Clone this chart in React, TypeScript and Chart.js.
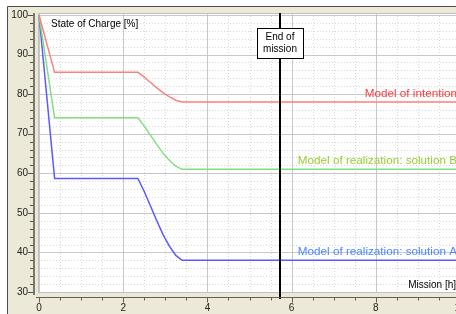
import React, { useEffect, useRef } from "react";
import { Chart, registerables } from "chart.js";

Chart.register(...registerables);

const missionHours = [0, 0.37, 2.35, 2.5, 2.65, 2.8, 2.95, 3.1, 3.25, 3.4, 10];
const intention = [100, 85.5, 85.5, 84.3, 82.95, 81.6, 80.33, 79.28, 78.45, 78.0, 78.0];
const solutionB = [100, 74, 74, 71.92, 69.58, 67.24, 65.03, 63.21, 61.78, 61.0, 61.0];
const solutionA = [100, 58.7, 58.7, 55.39, 51.66, 47.94, 44.42, 41.52, 39.24, 38.0, 38.0];
const seriesLabels = [
  "Model of intention",
  "Model of realization: solution B",
  "Model of realization: solution A",
];
const yTicks = [30, 40, 50, 60, 70, 80, 90, 100];
const xTicks = [0, 2, 4, 6, 8, 10];
const endOfMission = 5.72;
const markerText = ["End of", "mission"];
const yTitle = "State of Charge [%]";
const xTitle = "Mission [h]";

const W = 472;
const H = 314;
const FONT = '"Liberation Sans", Arial, sans-serif';
const lineColors = ["#ff8080", "#80e080", "#5a5aff"];
const textColors = ["#ff3c3c", "#99cc33", "#4d88ff"];

const decorPlugin = {
  id: "decor",
  beforeDraw(chart: any) {
    const ctx = chart.ctx as CanvasRenderingContext2D;
    const a = chart.chartArea;
    const xs = chart.scales.x;
    const ys = chart.scales.y;
    ctx.save();
    ctx.fillStyle = "#ffffff";
    ctx.fillRect(0, 0, W, H);
    ctx.fillStyle = "#ece9d8";
    ctx.fillRect(7, 6, W - 7, H - 6);
    ctx.strokeStyle = "#505050";
    ctx.lineWidth = 1;
    ctx.beginPath();
    ctx.moveTo(7.5, H);
    ctx.lineTo(7.5, 6.5);
    ctx.lineTo(W, 6.5);
    ctx.stroke();
    ctx.fillStyle = "#ffffff";
    ctx.fillRect(a.left, a.top, a.right - a.left, a.bottom - a.top);

    // minor grid
    ctx.strokeStyle = "#d8d8d8";
    ctx.setLineDash([1, 2]);
    for (let v = 0; v <= 10.001; v += 0.5) {
      if (Math.abs(v / 2 - Math.round(v / 2)) < 1e-6) continue;
      const px = Math.round(xs.getPixelForValue(v)) + 0.5;
      ctx.beginPath();
      ctx.moveTo(px, a.top);
      ctx.lineTo(px, a.bottom);
      ctx.stroke();
    }
    for (let v = 30; v <= 100; v += 2) {
      if (v % 10 === 0) continue;
      const py = Math.round(ys.getPixelForValue(v)) + 0.5;
      ctx.beginPath();
      ctx.moveTo(a.left, py);
      ctx.lineTo(a.right, py);
      ctx.stroke();
    }
    ctx.setLineDash([]);
    // major grid
    ctx.strokeStyle = "#c8c8c8";
    xTicks.forEach((v) => {
      const px = Math.round(xs.getPixelForValue(v)) + 0.5;
      ctx.beginPath();
      ctx.moveTo(px, a.top);
      ctx.lineTo(px, a.bottom);
      ctx.stroke();
    });
    yTicks.forEach((v) => {
      const py = Math.round(ys.getPixelForValue(v)) + 0.5;
      ctx.beginPath();
      ctx.moveTo(a.left, py);
      ctx.lineTo(a.right, py);
      ctx.stroke();
    });
    ctx.strokeStyle = "#c0c0c0";
    ctx.strokeRect(a.left + 0.5, a.top + 0.5, a.right - a.left, a.bottom - a.top);
    ctx.restore();
  },
  afterDatasetsDraw(chart: any) {
    const ctx = chart.ctx as CanvasRenderingContext2D;
    const a = chart.chartArea;
    const xs = chart.scales.x;
    const ys = chart.scales.y;
    ctx.save();

    // end of mission marker
    const mx = Math.round(xs.getPixelForValue(endOfMission));
    ctx.strokeStyle = "#000000";
    ctx.lineWidth = 2;
    ctx.beginPath();
    ctx.moveTo(mx, a.top);
    ctx.lineTo(mx, a.bottom + 7);
    ctx.stroke();
    const bw = 46, bh = 30, bt = a.top + 15;
    ctx.fillStyle = "#ffffff";
    ctx.fillRect(mx - bw / 2, bt, bw, bh);
    ctx.lineWidth = 1;
    ctx.strokeRect(mx - bw / 2 + 0.5, bt + 0.5, bw, bh);
    ctx.fillStyle = "#000000";
    ctx.font = `10px ${FONT}`;
    ctx.textAlign = "center";
    ctx.textBaseline = "middle";
    ctx.fillText(markerText[0], mx, bt + 9);
    ctx.fillText(markerText[1], mx, bt + 21);

    // series labels
    const finals = [intention, solutionB, solutionA];
    ctx.font = `11.7px ${FONT}`;
    ctx.textAlign = "right";
    ctx.textBaseline = "alphabetic";
    finals.forEach((arr, i) => {
      const lx = xs.getPixelForValue(missionHours[missionHours.length - 1]) - 3;
      const ly = ys.getPixelForValue(arr[arr.length - 1]);
      ctx.fillStyle = textColors[i];
      ctx.fillText(seriesLabels[i], lx, ly - 5);
    });

    // titles
    ctx.fillStyle = "#000000";
    ctx.font = `10px ${FONT}`;
    ctx.textAlign = "left";
    ctx.textBaseline = "middle";
    ctx.fillText(yTitle, a.left + 13, a.top + 11);
    ctx.textAlign = "right";
    ctx.fillText(xTitle, 456, a.bottom - 7);

    // y axis
    ctx.strokeStyle = "#7a7868";
    ctx.lineWidth = 2;
    ctx.beginPath();
    ctx.moveTo(34, a.top);
    ctx.lineTo(34, a.bottom + 3);
    ctx.stroke();
    ctx.lineWidth = 1;
    ctx.strokeStyle = "#505050";
    for (let v = 30; v <= 100; v += 2) {
      const py = Math.round(ys.getPixelForValue(v)) + 0.5;
      const len = v % 10 === 0 ? 5 : 3;
      ctx.beginPath();
      ctx.moveTo(33, py);
      ctx.lineTo(33 - len, py);
      ctx.stroke();
    }
    ctx.fillStyle = "#222222";
    ctx.textAlign = "right";
    ctx.textBaseline = "middle";
    yTicks.forEach((v) => {
      ctx.fillText(String(v), 28, ys.getPixelForValue(v));
    });

    // x axis
    const axY = a.bottom + 5.5;
    ctx.strokeStyle = "#606058";
    ctx.beginPath();
    ctx.moveTo(36, axY);
    ctx.lineTo(W, axY);
    ctx.stroke();
    for (let v = 0; v <= 10.001; v += 0.5) {
      const px = Math.round(xs.getPixelForValue(v)) + 0.5;
      const major = Math.abs(v / 2 - Math.round(v / 2)) < 1e-6;
      ctx.beginPath();
      ctx.moveTo(px, axY);
      ctx.lineTo(px, axY + (major ? 5 : 3));
      ctx.stroke();
    }
    ctx.textAlign = "center";
    xTicks.forEach((v) => {
      ctx.fillText(String(v), xs.getPixelForValue(v), axY + 11);
    });
    ctx.restore();
  },
};

export default function App() {
  const ref = useRef<HTMLCanvasElement | null>(null);
  useEffect(() => {
    document.body.style.margin = "0";
    if (!ref.current) return;
    const series = [intention, solutionB, solutionA];
    const chart = new Chart(ref.current, {
      type: "line",
      data: {
        datasets: series.map((arr, i) => ({
          label: seriesLabels[i],
          data: missionHours.map((h, j) => ({ x: h, y: arr[j] })),
          borderColor: lineColors[i],
          borderWidth: 1.5,
          pointRadius: 0,
          tension: 0,
          fill: false,
        })),
      },
      options: {
        animation: false,
        responsive: false,
        maintainAspectRatio: false,
        devicePixelRatio: 1,
        layout: { padding: { left: 38, top: 13, right: W - 460, bottom: H - 292 } },
        plugins: { legend: { display: false }, tooltip: { enabled: false }, title: { display: false } },
        events: [],
        scales: {
          x: { type: "linear", min: -0.024, max: 10, display: false },
          y: { type: "linear", min: 30, max: 100.5, display: false },
        },
      },
      plugins: [decorPlugin],
    });
    return () => chart.destroy();
  }, []);
  return (
    <div style={{ width: 456, height: 314, overflow: "hidden", position: "relative" }}>
      <canvas ref={ref} width={W} height={H} style={{ display: "block", width: W, height: H }} />
    </div>
  );
}
